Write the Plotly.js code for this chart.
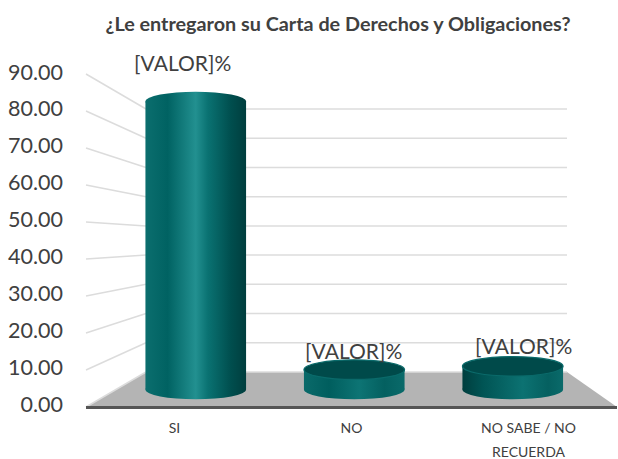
<!DOCTYPE html>
<html><head><meta charset="utf-8">
<script src="https://cdn.plot.ly/plotly-3.0.1.min.js"></script>
<style>html,body{margin:0;padding:0;background:#fff}#c{width:618px;height:459px}</style>
</head><body><div id="c"></div>
<script>
const categories = ['SI', 'NO', 'NO SABE / NO<br>RECUERDA'];
const values = [87, 6, 7];
const labels = ['[VALOR]%', '[VALOR]%', '[VALOR]%'];
const yTicks = [0, 10, 20, 30, 40, 50, 60, 70, 80, 90];
const chartTitle = '¿Le entregaron su Carta de Derechos y Obligaciones?';

const W = 618, H = 459;
const px = x => x / W, py = y => 1 - y / H;
const front = {l: 86, r: 617, y0: 407, y90: 74};
const back = {l: 146, r: 567, y0: 372, y90: 109};
const mid = {l: 116.5, r: 592, y0: 389.5, y90: 91.5};
const fy = v => front.y0 + (front.y90 - front.y0) * v / 90;
const by = v => back.y0 + (back.y90 - back.y0) * v / 90;
const my = v => mid.y0 + (mid.y90 - mid.y0) * v / 90;
const barW = 0.635, capH = 2.95, pad = 6;
const grid = {color: '#dcdcdc', width: 1.5};
const fontFam = 'Lato, Carlito, sans-serif';

const shapes = [];
shapes.push({type: 'path', xref: 'paper', yref: 'paper', layer: 'below', line: {width: 0}, fillcolor: '#b4b4b4',
  path: `M${px(front.l)},${py(front.y0)} L${px(back.l)},${py(back.y0)} L${px(back.r)},${py(back.y0)} L${px(front.r)},${py(front.y0)} Z`});
yTicks.forEach(v => {
  shapes.push({type: 'line', xref: 'paper', yref: 'paper', layer: 'below', line: grid,
    x0: px(front.l), x1: px(back.l), y0: py(fy(v)), y1: py(by(v))});
  shapes.push({type: 'line', xref: 'paper', yref: 'paper', layer: 'below', line: grid,
    x0: px(back.l), x1: px(back.r), y0: py(by(v)), y1: py(by(v))});
});
const gradShapes = [];
values.forEach((v, i) => {
  gradShapes.push([shapes.length, i]);
  shapes.push({type: 'circle', xref: 'x2', yref: 'y2', layer: 'below', line: {width: 0}, fillcolor: '#0a6a6a',
    x0: i - barW / 2, x1: i + barW / 2, y0: -capH, y1: capH});
});
const capColors = [null, '#004a4a', '#004a4a'];
values.forEach((v, i) => {
  if (!capColors[i]) gradShapes.push([shapes.length, i]);
  shapes.push({type: 'circle', xref: 'x2', yref: 'y2', layer: 'above', line: capColors[i] ? {width: 1.2, color: '#0a6a6a'} : {width: 0},
    fillcolor: capColors[i] || '#0a6a6a',
    x0: i - barW / 2, x1: i + barW / 2, y0: v - capH, y1: v + capH});
});

const labelShift = [-13, -1, 11];
const labelY = [63, 350, 345];
const annotations = values.map((v, i) => ({
  x: i, y: v, xref: 'x2', yref: 'y2', text: labels[i], showarrow: false,
  xshift: labelShift[i], yshift: my(v) - labelY[i],
  font: {family: fontFam, size: 21, color: '#404040'}
}));

const catText = categories.map(c => c.split('<br>').map(s => `<span style="font-size:14px">${s}</span>`).join('<br>'));

const traces = [
  {type: 'scatter', x: categories, y: values, mode: 'none', xaxis: 'x', yaxis: 'y', hoverinfo: 'skip', showlegend: false},
  {type: 'bar', x: categories, y: values, width: barW, xaxis: 'x2', yaxis: 'y2', marker: {color: '#0a6a6a', line: {width: 0}}, showlegend: false}
];

const layout = {
  width: W, height: H, margin: {l: 0, r: 0, t: 0, b: 0}, paper_bgcolor: '#fff', plot_bgcolor: 'rgba(0,0,0,0)',
  showlegend: false,
  title: {text: '<b>' + chartTitle + '</b>', x: 338 / W, xanchor: 'center', y: py(24), yanchor: 'middle',
    font: {family: fontFam, size: 19.8, color: '#404040', weight: 400}},
  xaxis: {type: 'category', categoryorder: 'array', categoryarray: categories, range: [-0.5, 2.5],
    tickmode: 'array', tickvals: categories, ticktext: catText,
    domain: [px(front.l), px(front.r)], anchor: 'free', position: py(407),
    showline: true, linecolor: '#555555', linewidth: 3, showgrid: false, ticks: '', ticklabelstandoff: 2,
    tickfont: {family: fontFam, size: 18.5, color: '#404040'}},
  yaxis: {range: [0, 90], domain: [py(404), py(72)], anchor: 'x', tickvals: yTicks, tickformat: '.2f', showgrid: false,
    zeroline: false, showline: false, ticks: '', ticklabelstandoff: 22,
    tickfont: {family: fontFam, size: 21.5, color: '#404040'}},
  xaxis2: {type: 'category', categoryorder: 'array', categoryarray: categories, range: [-0.5, 2.5],
    domain: [px(mid.l), px(mid.r)], anchor: 'y2', visible: false},
  yaxis2: {range: [-pad, 90 + pad], domain: [py(my(-pad)), py(my(90 + pad))], anchor: 'x2', visible: false},
  shapes, annotations
};

const gradStops = [
  [[0, '#0b6e6e'], [0.22, '#006262'], [0.5, '#229090'], [0.62, '#0a7272'], [0.85, '#004e4e'], [1, '#003e3e']],
  [[0, '#0a6a6a'], [0.25, '#005e5e'], [0.55, '#0d7474'], [0.8, '#046060'], [1, '#0a6a6a']],
  [[0, '#003e3e'], [0.2, '#005454'], [0.6, '#0c7272'], [0.85, '#056060'], [1, '#0a6a6a']]
];

Plotly.newPlot('c', traces, layout, {displayModeBar: false, staticPlot: true}).then(gd => {
  const svg = gd.querySelector('svg.main-svg');
  const NS = 'http://www.w3.org/2000/svg';
  const defs = document.createElementNS(NS, 'defs');
  gradStops.forEach((st, i) => {
    const g = document.createElementNS(NS, 'linearGradient');
    g.setAttribute('id', 'cyl' + i);
    g.setAttribute('x1', '0'); g.setAttribute('x2', '1'); g.setAttribute('y1', '0'); g.setAttribute('y2', '0');
    st.forEach(s => {
      const e = document.createElementNS(NS, 'stop');
      e.setAttribute('offset', s[0]); e.setAttribute('stop-color', s[1]);
      g.appendChild(e);
    });
    defs.appendChild(g);
  });
  svg.insertBefore(defs, svg.firstChild);
  gd.querySelectorAll('.barlayer .point path').forEach((p, i) => { p.style.fill = `url(#cyl${i})`; });
  gradShapes.forEach(([idx, i]) => {
    const p = gd.querySelector(`.shapelayer path[data-index="${idx}"]`);
    if (p) p.style.fill = `url(#cyl${i})`;
  });
});
</script></body></html>
